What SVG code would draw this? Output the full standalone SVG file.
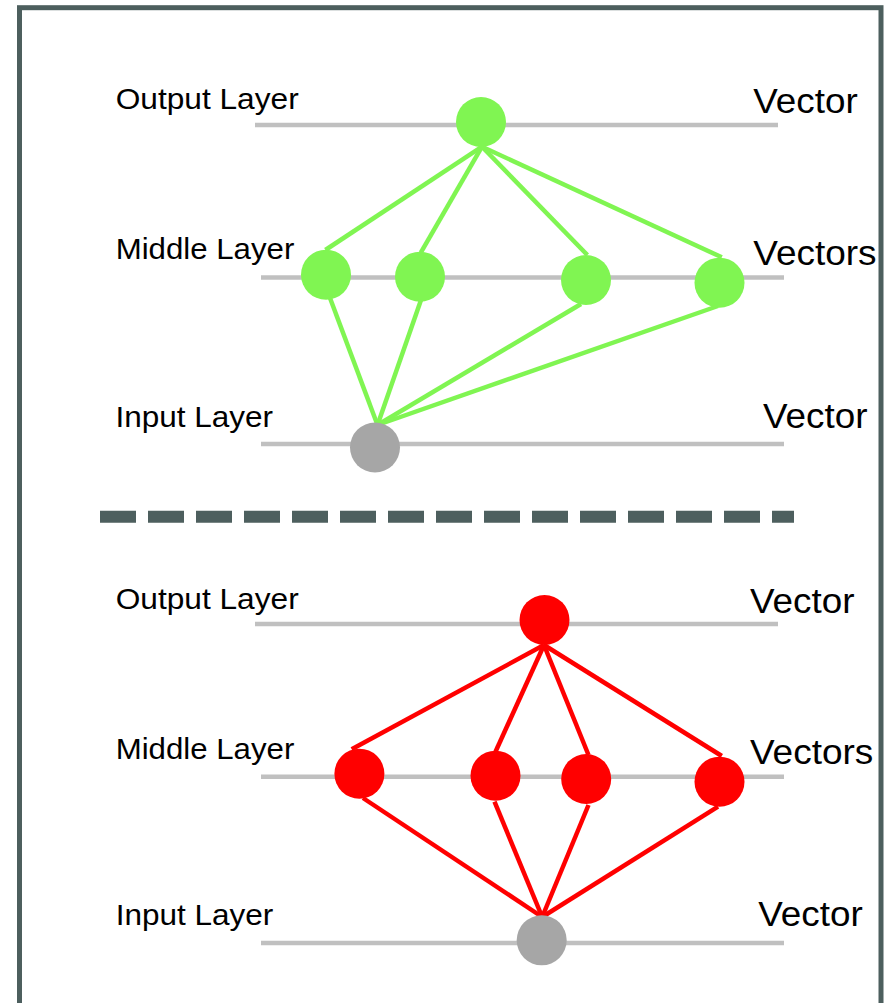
<svg xmlns="http://www.w3.org/2000/svg" width="886" height="1003" viewBox="0 0 886 1003">
<style>
.frame{fill:none;stroke:#4d5f5e;stroke-width:5}
.sep{fill:none;stroke:#4d5f5e;stroke-width:12;stroke-dasharray:36 12}
.axis{fill:none;stroke:#c0c0c0;stroke-width:4.5}
.g{stroke:#80f552;stroke-width:4.5;fill:none}
.r{stroke:#ff0000;stroke-width:4.5;fill:none}
.gn{fill:#80f552}
.rn{fill:#ff0000}
.in{fill:#a6a6a6}
.lbl{font-family:"Liberation Sans",Arial,sans-serif;font-size:30px;fill:#000}
.vec{font-family:"Liberation Sans",Arial,sans-serif;font-size:35px;fill:#000}
</style>
<rect class="frame" x="19.5" y="7.7" width="861.5" height="1010"/>
<line class="sep" x1="100" y1="516.7" x2="794" y2="516.7"/>
<g id="axes">
<line class="axis" x1="255" y1="125" x2="778" y2="125"/>
<line class="axis" x1="261" y1="277.5" x2="784" y2="277.5"/>
<line class="axis" x1="261" y1="444" x2="784" y2="444"/>
<line class="axis" x1="255" y1="624" x2="778" y2="624"/>
<line class="axis" x1="261" y1="776.7" x2="784" y2="776.7"/>
<line class="axis" x1="261" y1="943" x2="784" y2="943"/>
</g>
<g id="labels">
<text class="lbl" x="115.7" y="109.3" textLength="183" lengthAdjust="spacingAndGlyphs">Output Layer</text>
<text class="vec" x="753.3" y="113.3" textLength="104.5" lengthAdjust="spacingAndGlyphs">Vector</text>
<text class="lbl" x="115.7" y="259.3" textLength="178.6" lengthAdjust="spacingAndGlyphs">Middle Layer</text>
<text class="vec" x="753.3" y="265" textLength="123.3" lengthAdjust="spacingAndGlyphs">Vectors</text>
<text class="lbl" x="115.5" y="426.7" textLength="157.6" lengthAdjust="spacingAndGlyphs">Input Layer</text>
<text class="vec" x="763" y="428.3" textLength="104.5" lengthAdjust="spacingAndGlyphs">Vector</text>
<text class="lbl" x="115.7" y="609.3" textLength="183" lengthAdjust="spacingAndGlyphs">Output Layer</text>
<text class="vec" x="750" y="612.7" textLength="104.5" lengthAdjust="spacingAndGlyphs">Vector</text>
<text class="lbl" x="115.7" y="759" textLength="178.6" lengthAdjust="spacingAndGlyphs">Middle Layer</text>
<text class="vec" x="750" y="764" textLength="123.3" lengthAdjust="spacingAndGlyphs">Vectors</text>
<text class="lbl" x="115.7" y="925" textLength="157.6" lengthAdjust="spacingAndGlyphs">Input Layer</text>
<text class="vec" x="758.3" y="926" textLength="104.5" lengthAdjust="spacingAndGlyphs">Vector</text>
</g>
<g id="connectors">
<line class="g" x1="482" y1="146.7" x2="325.4" y2="250"/>
<line class="g" x1="482" y1="146.7" x2="420.8" y2="252.7"/>
<line class="g" x1="482" y1="146.7" x2="587.4" y2="255"/>
<line class="g" x1="482" y1="146.7" x2="721.8" y2="257.3"/>
<line class="g" x1="330" y1="298" x2="377.5" y2="425"/>
<line class="g" x1="421" y1="300" x2="377.5" y2="425"/>
<line class="g" x1="581" y1="304" x2="377.5" y2="425"/>
<line class="g" x1="718" y1="306" x2="377.5" y2="425"/>
<line class="r" x1="544" y1="645" x2="351.7" y2="749.3"/>
<line class="r" x1="544" y1="645" x2="495.5" y2="751.7"/>
<line class="r" x1="544" y1="645" x2="588.5" y2="755"/>
<line class="r" x1="544" y1="645" x2="721.8" y2="756"/>
<line class="r" x1="363" y1="798" x2="542.2" y2="917"/>
<line class="r" x1="494.5" y1="801.7" x2="542.2" y2="917"/>
<line class="r" x1="588.5" y1="805" x2="542.2" y2="917"/>
<line class="r" x1="718" y1="806.7" x2="542.2" y2="917"/>
</g>
<g id="top-output"><circle class="gn" cx="481" cy="122" r="25"/></g>
<g id="top-middle-1"><circle class="gn" cx="326" cy="274.7" r="25"/></g>
<g id="top-middle-2"><circle class="gn" cx="420" cy="276.7" r="25"/></g>
<g id="top-middle-3"><circle class="gn" cx="586" cy="280" r="25"/></g>
<g id="top-middle-4"><circle class="gn" cx="719.5" cy="282.7" r="25"/></g>
<g id="top-input"><circle class="in" cx="375" cy="447.5" r="25"/></g>
<g id="bottom-output"><circle class="rn" cx="544.5" cy="620" r="25"/></g>
<g id="bottom-middle-1"><circle class="rn" cx="359.4" cy="773.7" r="25"/></g>
<g id="bottom-middle-2"><circle class="rn" cx="495.5" cy="775.7" r="25"/></g>
<g id="bottom-middle-3"><circle class="rn" cx="586.2" cy="779" r="25"/></g>
<g id="bottom-middle-4"><circle class="rn" cx="719.5" cy="781.7" r="25"/></g>
<g id="bottom-input"><circle class="in" cx="541.7" cy="940.3" r="25"/></g>
</svg>
